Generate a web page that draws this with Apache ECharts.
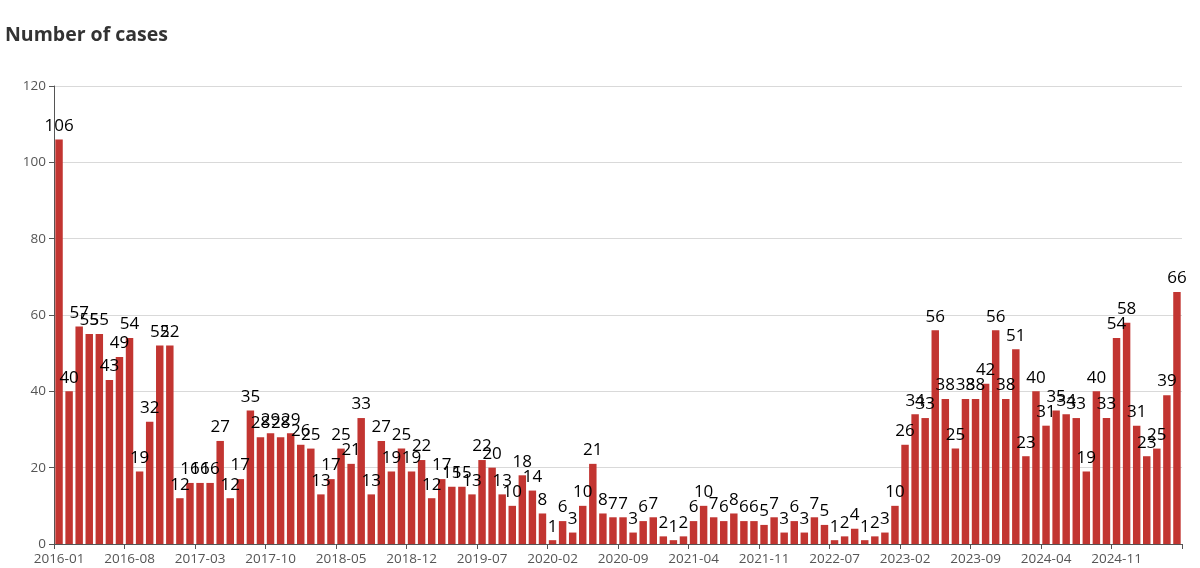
<!DOCTYPE html>
<html>
<head>
<meta charset="utf-8">
<script src="https://cdn.jsdelivr.net/npm/echarts@6/dist/echarts.min.js"></script>
<style>html,body{margin:0;padding:0;background:#fff}#c{width:1200px;height:568px}</style>
</head>
<body>
<div id="c"></div>
<script>
const months = [
'2016-01','2016-02','2016-03','2016-04','2016-05','2016-06','2016-07','2016-08','2016-09','2016-10','2016-11','2016-12',
'2017-01','2017-02','2017-03','2017-04','2017-05','2017-06','2017-07','2017-08','2017-09','2017-10','2017-11','2017-12',
'2018-01','2018-02','2018-03','2018-04','2018-05','2018-06','2018-07','2018-08','2018-09','2018-10','2018-11','2018-12',
'2019-01','2019-02','2019-03','2019-04','2019-05','2019-06','2019-07','2019-08','2019-09','2019-10','2019-11','2019-12',
'2020-01','2020-02','2020-03','2020-04','2020-05','2020-06','2020-07','2020-08','2020-09','2020-10','2020-11','2020-12',
'2021-01','2021-02','2021-03','2021-04','2021-05','2021-06','2021-07','2021-08','2021-09','2021-10','2021-11','2021-12',
'2022-01','2022-02','2022-03','2022-05','2022-06','2022-07','2022-08','2022-09','2022-10','2022-11','2022-12',
'2023-01','2023-02','2023-03','2023-04','2023-05','2023-06','2023-07','2023-08','2023-09','2023-10','2023-11','2023-12',
'2024-01','2024-02','2024-03','2024-04','2024-05','2024-06','2024-07','2024-08','2024-09','2024-10','2024-11','2024-12',
'2025-01','2025-02','2025-03','2025-04','2025-05'
];
const cases = [
106,40,57,55,55,43,49,54,19,32,52,52,
12,16,16,16,27,12,17,35,28,29,28,29,
26,25,13,17,25,21,33,13,27,19,25,19,
22,12,17,15,15,13,22,20,13,10,18,14,
8,1,6,3,10,21,8,7,7,3,6,7,
2,1,2,6,10,7,6,8,6,6,5,7,
3,6,3,7,5,1,2,4,1,2,3,
10,26,34,33,56,38,25,38,38,42,56,38,
51,23,40,31,35,34,33,19,40,33,54,58,
31,23,25,39,66
];
const yTicks = {min: 0, max: 120, interval: 20};

const chart = echarts.init(document.getElementById('c'));
chart.setOption({
  animation: false,
  textStyle: {fontFamily: 'Open Sans'},
  title: {
    text: 'Number of cases', left: 0, top: 20,
    textStyle: {fontSize: 19.5, fontWeight: 'bold', color: '#333', fontFamily: 'Open Sans'}
  },
  grid: {left: 54, right: 18, top: 86, bottom: 24, containLabel: false},
  xAxis: {
    type: 'category', data: months,
    axisLine: {show: true, lineStyle: {color: '#555'}},
    axisTick: {show: true, lineStyle: {color: '#555'}},
    axisLabel: {interval: 6, color: '#555', fontSize: 13.5, margin: 8}
  },
  yAxis: {
    type: 'value', min: yTicks.min, max: yTicks.max, interval: yTicks.interval,
    axisLine: {show: true, lineStyle: {color: '#555'}},
    axisTick: {show: true, lineStyle: {color: '#555'}},
    axisLabel: {color: '#555', fontSize: 13.5, margin: 8, fontFamily: 'Open Sans', textStyle: {fontSize: 13.5}},
    splitLine: {lineStyle: {color: '#d9d9d9'}}
  },
  series: [{
    type: 'bar', data: cases, barCategoryGap: '26%',
    itemStyle: {color: '#c23531'},
    label: {show: true, position: 'top', color: '#000', fontSize: 17, distance: 5}
  }]
});
</script>
</body>
</html>
